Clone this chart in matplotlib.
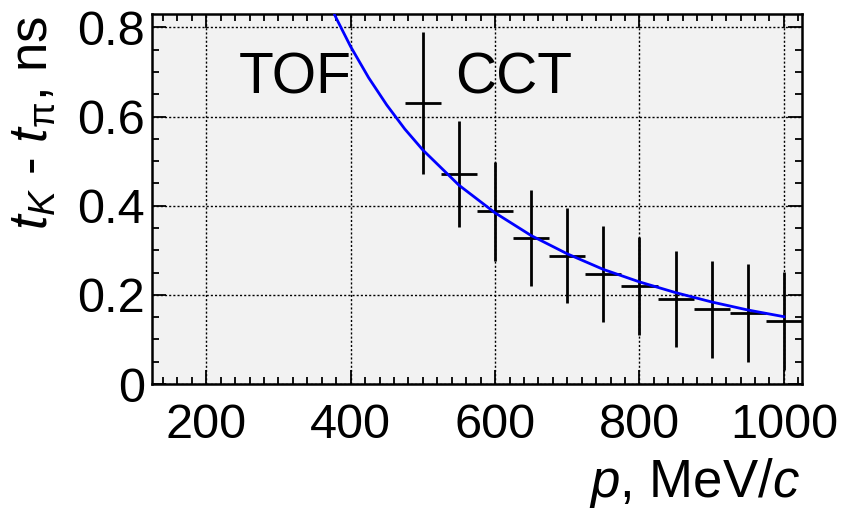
#!/usr/bin/python3

import matplotlib
matplotlib.use("Agg")
import matplotlib.pyplot as plt
from matplotlib.ticker import MultipleLocator

# data
p = [500, 550, 600, 650, 700, 750, 800, 850, 900, 950, 1000]
dt = [0.630, 0.471, 0.387, 0.327, 0.288, 0.247, 0.219, 0.191, 0.168, 0.159, 0.141]
dt_err = [0.160, 0.119, 0.110, 0.108, 0.107, 0.108, 0.110, 0.108, 0.109, 0.110, 0.110]
bin_half = 25

# blue curve, sampled points
curve_p = [370, 380, 400, 425, 450, 475, 500, 550, 600, 650, 700, 750, 800, 850, 900, 950, 1000]
curve_dt = [0.856, 0.821, 0.757, 0.687, 0.626, 0.572, 0.525, 0.446, 0.384, 0.333,
            0.292, 0.257, 0.229, 0.205, 0.184, 0.166, 0.151]

plt.rcParams['font.family'] = ['Liberation Sans', 'DejaVu Sans']
plt.rcParams['mathtext.fontset'] = 'custom'
plt.rcParams['mathtext.rm'] = 'Liberation Sans'
plt.rcParams['mathtext.it'] = 'Liberation Sans:italic'

fig = plt.figure(figsize=(8.49, 5.15), dpi=100)
ax = fig.add_axes([152/849, 1-384/515, 650/849, 370/515])
ax.set_facecolor('#f2f2f2')

ax.errorbar(p, dt, yerr=dt_err, xerr=bin_half, fmt='none', ecolor='black',
            elinewidth=2, capsize=0, zorder=3)
ax.plot(curve_p, curve_dt, color='#0000ff', lw=2, zorder=4)

ax.set_xlim(125, 1025)
ax.set_ylim(0, 0.83)
ax.xaxis.set_major_locator(MultipleLocator(200))
ax.xaxis.set_minor_locator(MultipleLocator(20))
ax.yaxis.set_major_locator(MultipleLocator(0.2))
ax.yaxis.set_minor_locator(MultipleLocator(0.05))
ax.set_yticks([0, 0.2, 0.4, 0.6, 0.8])
ax.set_yticklabels(['0', '0.2', '0.4', '0.6', '0.8'])

ax.tick_params(which='both', direction='in', top=True, right=True, width=1.3,
               labelsize=35)
ax.tick_params(which='major', length=10)
ax.tick_params(which='minor', length=5)
ax.tick_params(axis='x', pad=14)
ax.tick_params(axis='y', pad=5)
for s in ax.spines.values():
    s.set_linewidth(1.8)

ax.grid(True, which='major', color='black', linestyle=(0, (1.5, 1.5)), lw=1)
ax.set_axisbelow(True)

ax.text(323, 0.652, 'TOF', fontsize=41, ha='center', va='baseline')
ax.text(626, 0.652, 'CCT', fontsize=41, ha='center', va='baseline')

fig.text(800/849, 1-497/515, '$p$, MeV/$c$', fontsize=38, ha='right', va='baseline')
fig.text(33/849, 1-16/515, r'$t_{K}$ - $t_{\mathrm{\pi}}$, ns', fontsize=38, rotation=90,
         ha='center', va='top')

plt.savefig('out.png', dpi=100)
